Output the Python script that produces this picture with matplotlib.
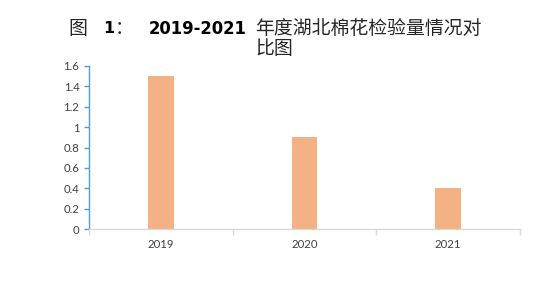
import matplotlib
matplotlib.use("Agg")
import matplotlib.pyplot as plt
from matplotlib.ticker import FixedLocator, FuncFormatter

years = ["2019", "2020", "2021"]
values = [1.5, 0.9, 0.4]
yticks = [0, 0.2, 0.4, 0.6, 0.8, 1.0, 1.2, 1.4, 1.6]

W, H = 553, 283
fig = plt.figure(figsize=(W / 100, H / 100), dpi=100)
ax = fig.add_axes([89 / W, 54 / H, (520 - 89) / W, (229 - 66) / H])

x = list(range(len(years)))
ax.bar(x, values, width=0.18, color="#F4B183", zorder=2)
ax.set_xlim(-0.5, len(years) - 0.5)
ax.set_ylim(0, 1.6)

ax.set_yticks(yticks)
ax.yaxis.set_major_formatter(FuncFormatter(lambda v, p: f"{v:g}"))
ax.set_xticks(x)
ax.set_xticklabels(years)
ax.xaxis.set_minor_locator(FixedLocator([i - 0.5 for i in range(len(years) + 1)]))

for s in ["top", "right"]:
    ax.spines[s].set_visible(False)
ax.spines["left"].set_color("#5B9BD5")
ax.spines["left"].set_linewidth(1.0)
ax.spines["bottom"].set_color("#D9D9D9")
ax.spines["bottom"].set_linewidth(1.0)

ax.tick_params(axis="y", direction="out", length=3.9, width=1.0, color="#5B9BD5",
               pad=3, labelsize=8.2, labelcolor="#404040")
ax.tick_params(axis="x", which="major", length=0, pad=7.5, labelsize=8.2, labelcolor="#404040")
ax.tick_params(axis="x", which="minor", length=4, width=1.0, color="#D9D9D9", direction="out")
for lab in ax.get_xticklabels() + ax.get_yticklabels():
    lab.set_fontfamily("Lato")

cjk = ["Noto Sans CJK SC", "DejaVu Sans"]
def px(xp, yp):
    return xp / W, 1 - yp / H

tc = "#262626"
fs = 13.6
fig.text(*px(68, 28.5), "图", family=cjk, fontsize=fs, va="center", ha="left", color=tc)
fig.text(*px(103, 28.5), "1", family="DejaVu Sans", weight="bold", fontsize=11.5, va="center", ha="left", color="#000000")
fig.text(*px(115, 28.5), "：", family=cjk, fontsize=fs, va="center", ha="left", color=tc)
fig.text(*px(149, 28.5), "2019-2021", family="DejaVu Sans", weight="bold", fontsize=11.9, va="center", ha="left", color="#000000")
fig.text(*px(255, 28.5), "年度湖北棉花检验量情况对", family=cjk, fontsize=fs, va="center", ha="left", color=tc)
fig.text(*px(255, 49), "比图", family=cjk, fontsize=fs, va="center", ha="left", color=tc)

fig.savefig("out.png", dpi=100)
